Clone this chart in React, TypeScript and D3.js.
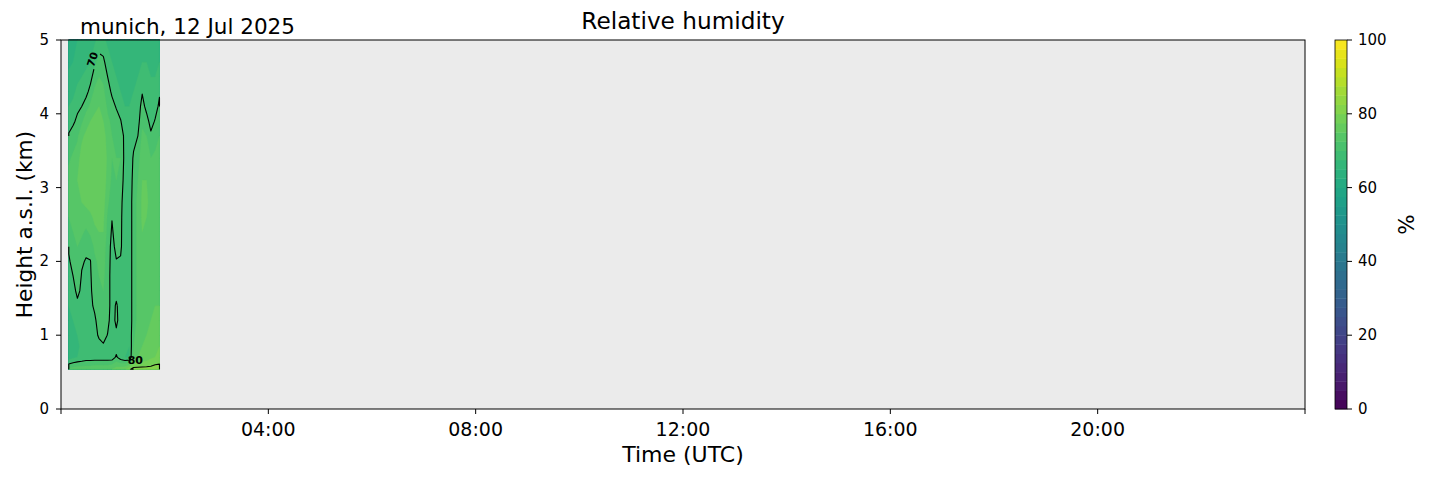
import * as d3 from "d3";

// profile times (minutes after 00:00 UTC)
const profileMinutes = [9, 14, 19, 24, 29, 34, 39, 44, 49, 54, 59, 64, 69, 74, 79, 84, 89, 94, 99, 104, 109, 114];

// retrieval heights (km a.s.l.)
const heightsKm = [0.54, 0.7, 0.85, 1.0, 1.2, 1.4, 1.6, 1.8, 2.0, 2.2, 2.4, 2.6, 2.8, 3.1, 3.4, 3.7, 3.9, 4.1, 4.3, 4.5, 4.7, 5.0];

// relative humidity (%) profiles, one per time, bottom -> top
const rhProfiles = [
  [73, 66, 65, 65.5, 66.5, 67.5, 68.5, 69.2, 69.6, 70.4, 71.5, 72.5, 73, 73.5, 72, 70.2, 69.2, 67.5, 66.5, 65.5, 64.5, 63.5],
  [73.5, 67, 66, 66.5, 67.5, 68.5, 69.3, 70, 71, 72, 72.5, 73, 73.5, 74.5, 73, 71, 69.6, 68, 67, 66, 65, 64],
  [74, 67.5, 67, 67.5, 68.5, 69.5, 70.5, 71.5, 72, 72.5, 73, 73.5, 74.5, 75, 74, 72, 70.5, 69.5, 68, 67, 66, 65],
  [74, 68, 68, 68.5, 69, 69.3, 69.6, 69.8, 70.3, 71.5, 73, 74, 75, 76, 76, 74.5, 72, 70, 68.5, 67.5, 66.5, 65.5],
  [74, 68.5, 68.5, 69, 69.3, 69.5, 69.6, 69.7, 69.8, 70.6, 72, 74, 75.5, 76.5, 76.5, 75.5, 74, 71.5, 69, 68, 67, 66],
  [74, 68.5, 69, 69.2, 69.4, 69.5, 69.6, 69.7, 69.9, 71, 73, 74.5, 76, 77, 77, 76.5, 75, 73, 71, 69, 67.5, 66.5],
  [74.5, 68.5, 69, 69.3, 69.6, 70.4, 71, 71.5, 72, 73, 74.5, 75.5, 76.5, 77, 77, 76.5, 75.5, 74.5, 73, 71.5, 69.5, 67],
  [74.5, 68.5, 69.3, 70.3, 71, 71.5, 72, 72.5, 73, 74, 75, 76, 76.5, 77, 77, 76.5, 75.5, 75, 74, 72.5, 71, 68.5],
  [74.5, 68.5, 69.7, 70.8, 71.5, 72, 72.5, 73, 73.5, 74, 75, 75.5, 76, 76.5, 76.5, 76, 75, 74, 73, 72, 70.7, 68],
  [74.5, 68.5, 69.3, 69.9, 70.6, 71, 71, 71, 71, 71, 71.5, 72, 73, 74, 74.5, 74, 73, 72, 71, 70, 68.5, 67],
  [75, 68.5, 69, 69, 69, 69, 69, 69, 69.2, 69.4, 69.7, 70.1, 71, 72, 72.5, 72.5, 72, 70.8, 69.6, 68.5, 67.5, 66.5],
  [76, 70.5, 68.5, 69.5, 70.5, 70.3, 69.3, 69.5, 69.9, 70.5, 71, 71.5, 72, 72.5, 72.5, 72, 71, 69.8, 68.5, 67.5, 66.5, 65.5],
  [76.5, 68.5, 68, 68.5, 69, 69, 69.2, 69.4, 69.7, 70.5, 70.6, 70.7, 71, 72, 72.5, 72, 70.2, 68.5, 67.5, 66.5, 66, 65],
  [77, 67.5, 67.5, 68, 68, 68, 68, 68, 68, 68, 68, 68, 68, 68.5, 69, 69, 68, 67.5, 67, 66.5, 66, 65.5],
  [79.5, 67, 67.5, 68, 68, 68, 68, 68, 68, 68, 68, 68, 68, 68, 68.5, 68.5, 68, 67.5, 67, 66.5, 66, 66],
  [81, 74, 72.5, 72, 71.5, 71.5, 71.5, 71.5, 71.5, 71.5, 71.5, 71.5, 71.5, 71, 70.3, 69.3, 68.5, 68, 67.5, 67, 66.5, 66],
  [81, 75, 74, 73.5, 73, 73, 73, 73, 73, 73, 73, 73, 73, 72.5, 71.5, 70, 69, 68.5, 68, 67.5, 67, 66.5],
  [81, 75.5, 75, 74.5, 74, 74, 74, 74, 74, 74.5, 75, 75.5, 75.5, 75, 74, 73, 72, 71, 69.8, 68.5, 67.5, 67],
  [81, 76, 75.5, 75, 74.5, 74, 74, 74, 74, 74, 74.5, 75, 75.5, 75, 74, 72.5, 71, 69.2, 68.5, 68, 67.5, 67],
  [81, 77, 76.5, 76, 75, 74.5, 74, 74, 74, 74, 74, 74, 74, 73.5, 72.5, 70.5, 69, 68.5, 68, 67.5, 67, 66.5],
  [81.5, 77.5, 77, 76.5, 75.5, 75, 74.5, 74, 74, 74, 74, 74, 74, 74, 73, 71.5, 70.2, 69, 68, 67.5, 67, 66.5],
  [81.5, 78, 77.5, 77, 76, 75, 74.5, 74, 74, 74, 74, 74, 74, 74, 73.5, 72.5, 71.5, 70.5, 69.7, 68.5, 67.5, 67],
];

const fillLevels = d3.range(0, 100, 2.5);
const lineLevels = [70, 80];
const xTickMinutes = [0, 240, 480, 720, 960, 1200, 1440];
const xTickLabels = ["", "04:00", "08:00", "12:00", "16:00", "20:00", ""];
const yTicks = [0, 1, 2, 3, 4, 5];
const cbTicks = [0, 20, 40, 60, 80, 100];

const W = 1429;
const H = 478;
const FONT = "DejaVu Sans, sans-serif";

export default function App() {
  const x = d3.scaleLinear().domain([0, 1440]).range([61, 1305]);
  const y = d3.scaleLinear().domain([0, 5]).range([409, 40]);
  const cb = d3.scaleLinear().domain([0, 100]).range([409, 40]);
  const color = (v: number) => d3.interpolateViridis(v / 100);

  const n = profileMinutes.length;
  const m = heightsKm.length;
  // grid index -> data coords (piecewise linear)
  const colToMin = d3.scaleLinear().domain(d3.range(n)).range(profileMinutes).clamp(true);
  const rowToKm = d3.scaleLinear().domain(d3.range(m)).range(heightsKm).clamp(true);
  const px = (c: number) => x(colToMin(c - 0.5));
  const py = (r: number) => y(rowToKm(r - 0.5));

  const values: number[] = [];
  for (let j = 0; j < m; j++) for (let i = 0; i < n; i++) values.push(rhProfiles[i][j]);

  const bands = d3.contours().size([n, m]).thresholds(fillLevels)(values);
  const isolines = d3.contours().size([n, m]).thresholds(lineLevels)(values);

  const pt = (p: number[]) => `${px(p[0]).toFixed(2)},${py(p[1]).toFixed(2)}`;
  const polyPath = (mp: any) =>
    mp.coordinates.map((poly: number[][][]) => poly.map((ring) => "M" + ring.map(pt).join("L") + "Z").join("")).join("");

  // contour lines without the grid border
  const sameEdge = (a: number[], b: number[]) =>
    (a[0] <= 0 && b[0] <= 0) || (a[0] >= n && b[0] >= n) || (a[1] <= 0 && b[1] <= 0) || (a[1] >= m && b[1] >= m);
  const linePath = (mp: any) => {
    let d = "";
    mp.coordinates.forEach((poly: number[][][]) =>
      poly.forEach((ring) => {
        let cur: number[][] = [];
        const flush = () => {
          if (cur.length > 1) d += "M" + cur.map(pt).join("L");
          cur = [];
        };
        for (let k = 0; k < ring.length - 1; k++) {
          const a = ring[k];
          const b = ring[k + 1];
          if (sameEdge(a, b)) flush();
          else {
            if (!cur.length) cur.push(a);
            cur.push(b);
          }
        }
        flush();
      })
    );
    return d;
  };

  const lab70 = { x: x(36), y: y(4.74), rot: -72 };
  const lab80 = { x: x(86), y: y(0.655) };

  return (
    <div style={{ position: "absolute", left: 0, top: 0 }}>
      <svg width={W} height={H} style={{ display: "block", background: "#fff" }} fontFamily={FONT}>
        <defs>
          <mask id="lblmask">
            <rect x={0} y={0} width={W} height={H} fill="#fff" />
            <rect
              x={-9}
              y={-6}
              width={18}
              height={12}
              fill="#000"
              transform={`translate(${lab70.x},${lab70.y}) rotate(${lab70.rot})`}
            />
          </mask>
        </defs>

        <rect x={61} y={40} width={1244} height={369} fill="#ebebeb" />

        {/* filled contours */}
        <g>
          {bands
            .filter((b) => b.coordinates.length)
            .map((b) => (
              <path key={b.value} d={polyPath(b)} fill={color(b.value + 1.25)} stroke={color(b.value + 1.25)} strokeWidth={0.3} />
            ))}
        </g>

        {/* contour lines */}
        <g mask="url(#lblmask)">
          {isolines.map((l) => (
            <path key={l.value} d={linePath(l)} fill="none" stroke="#000" strokeWidth={1.1} strokeLinejoin="round" />
          ))}
        </g>
        <text
          transform={`translate(${lab70.x},${lab70.y}) rotate(${lab70.rot})`}
          textAnchor="middle"
          dominantBaseline="central"
          fontSize={10.5}
          fontWeight="bold"
        >
          70
        </text>
        <text x={lab80.x} y={lab80.y} textAnchor="middle" dominantBaseline="central" fontSize={11} fontWeight="bold">
          80
        </text>

        {/* frame */}
        <rect x={61} y={40} width={1244} height={369} fill="none" stroke="#000" strokeWidth={1} />

        {/* x axis */}
        {xTickMinutes.map((t, i) => (
          <g key={t}>
            <line x1={x(t)} x2={x(t)} y1={409} y2={414} stroke="#000" strokeWidth={1} />
            <text x={x(t)} y={436} textAnchor="middle" fontSize={19}>
              {xTickLabels[i]}
            </text>
          </g>
        ))}
        <text x={683} y={462} textAnchor="middle" fontSize={22}>
          Time (UTC)
        </text>

        {/* y axis */}
        {yTicks.map((t) => (
          <g key={t}>
            <line x1={56} x2={61} y1={y(t)} y2={y(t)} stroke="#000" strokeWidth={1} />
            <text x={49} y={y(t)} textAnchor="end" dominantBaseline="central" fontSize={15}>
              {t}
            </text>
          </g>
        ))}
        <text transform={`translate(32,${(40 + 409) / 2}) rotate(-90)`} textAnchor="middle" fontSize={21.7}>
          Height a.s.l. (km)
        </text>

        {/* titles */}
        <text x={683} y={29} textAnchor="middle" fontSize={23.2}>
          Relative humidity
        </text>
        <text x={80} y={34} fontSize={21.5}>
          munich, 12 Jul 2025
        </text>

        {/* colorbar */}
        <g>
          {fillLevels.map((lv) => (
            <rect key={lv} x={1335} y={cb(lv + 2.5)} width={12} height={cb(lv) - cb(lv + 2.5) + 0.4} fill={color(lv + 1.25)} />
          ))}
          <rect x={1335} y={40} width={12} height={369} fill="none" stroke="#000" strokeWidth={0.8} />
          {cbTicks.map((t) => (
            <g key={t}>
              <line x1={1347} x2={1352} y1={cb(t)} y2={cb(t)} stroke="#000" strokeWidth={1} />
              <text x={1358} y={cb(t)} dominantBaseline="central" fontSize={15}>
                {t}
              </text>
            </g>
          ))}
          <text transform={`translate(1414,${(40 + 409) / 2}) rotate(-90)`} textAnchor="middle" fontSize={21.5}>
            %
          </text>
        </g>
      </svg>
    </div>
  );
}
